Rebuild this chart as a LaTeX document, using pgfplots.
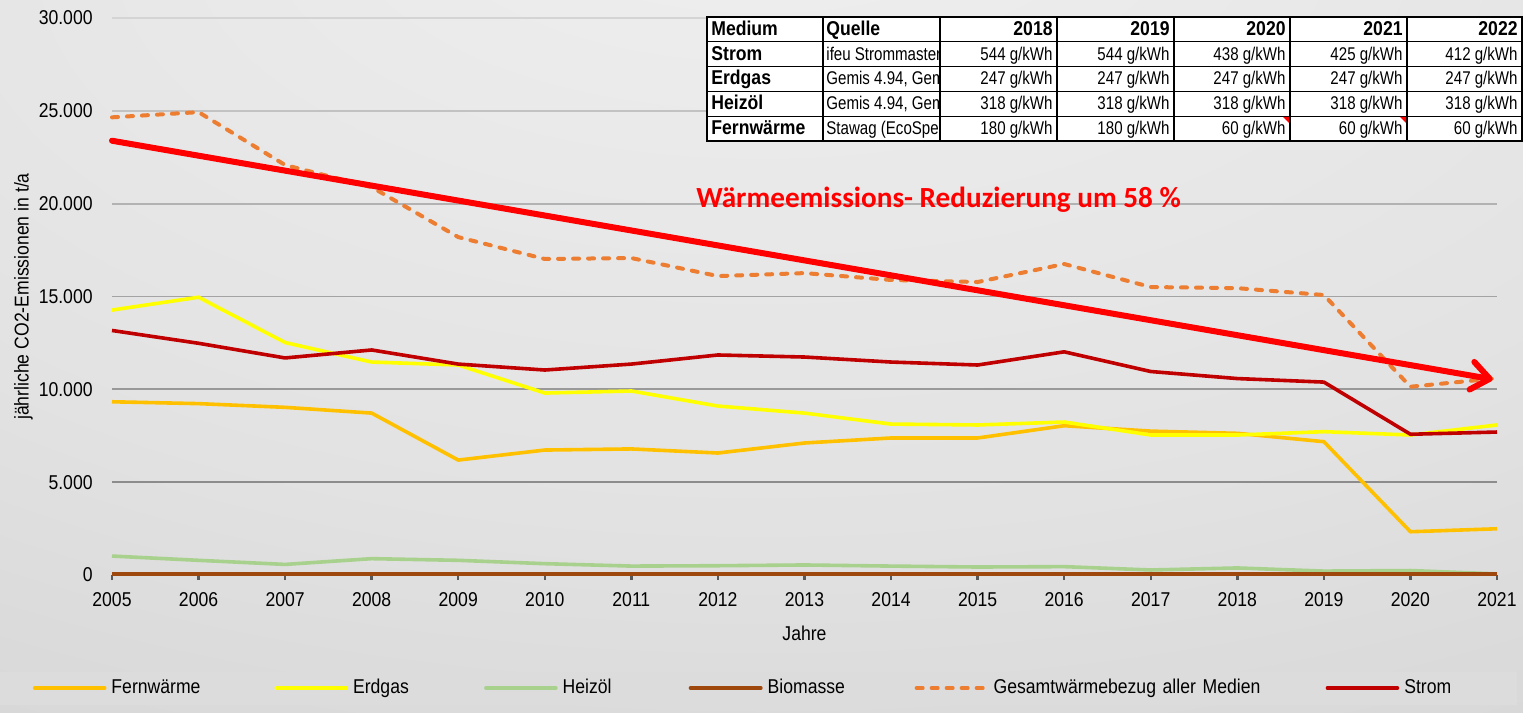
\documentclass[border=0pt]{standalone}
\usepackage{fontspec}
\setmainfont{Liberation Sans}[FakeStretch=0.88]
\newfontfamily\narrowfont{Liberation Sans}[FakeStretch=0.82]
\newfontfamily\calibri{Carlito}
\usepackage{pgfplots}
\pgfplotsset{compat=1.18}
\usetikzlibrary{arrows.meta}

\definecolor{fern}{HTML}{FFC000}
\definecolor{erdgas}{HTML}{FFFF00}
\definecolor{heizoel}{HTML}{A9D18E}
\definecolor{biomasse}{HTML}{9E480E}
\definecolor{gesamt}{HTML}{ED7D31}
\definecolor{strom}{HTML}{C00000}
\definecolor{trend}{HTML}{FF0000}
\definecolor{bgA}{HTML}{F0F0F0}
\definecolor{bgB}{HTML}{E2E2E2}
\definecolor{bgC}{HTML}{CECECE}
\definecolor{bgD}{HTML}{C2C2C2}
\definecolor{strip}{HTML}{DCDCDC}
\pgfdeclareradialshading{bgshade}{\pgfpoint{0bp}{36bp}}{color(0bp)=(bgA); color(35bp)=(bgB); color(65bp)=(bgC); color(100bp)=(bgD)}

\begin{document}
\begin{tikzpicture}[font=\fontsize{10}{12}\selectfont]
\path[use as bounding box] (-56pt,-69pt) rectangle (705.5pt,287.5pt);
% background, pixel coordinates of the reference
\begin{scope}[shift={(-56pt,287.5pt)},x=0.5pt,y=-0.5pt]
\shade[shading=bgshade] (0,0) rectangle (1523,713);
\fill[strip] (0,672) rectangle (1517,705);
\end{scope}

\begin{axis}[scale only axis,width=692.5pt,height=278.5pt,
  xmin=2005,xmax=2021,ymin=0,ymax=30000,clip=false,
  axis line style={draw=none},
  xtick={2005,2006,...,2021},ytick={0,5000,...,30000},
  xtick pos=left,ytick pos=left,tick align=outside,major tick length=2.5pt,
  xtick style={draw=black!65,line width=1.2pt},ytick style={draw=none},
  scaled y ticks=false,
  tick label style={font=\fontsize{10}{12}\selectfont,/pgf/number format/assume math mode=true},
  xticklabel style={/pgf/number format/1000 sep={},inner sep=0pt,anchor=north,yshift=-6pt},
  yticklabel style={/pgf/number format/1000 sep={.},inner sep=0pt,anchor=east,xshift=-7pt},
  xlabel={Jahre},xlabel style={at={(axis description cs:0.5,-0.104)},anchor=center},
  ylabel={jährliche CO2-Emissionen in t/a},ylabel style={at={(axis description cs:-0.064,0.5)},anchor=center},
  every axis plot/.append style={line width=1.8pt,line join=round},
  legend columns=6,legend cell align=left,
  legend image code/.code={\draw[#1,line cap=round] (0pt,0pt) -- (35pt,0pt);},
  legend style={at={(axis description cs:-0.0574,-0.2029)},anchor=west,draw=none,fill=none,inner sep=0pt,
    nodes={inner sep=2.5pt},font=\fontsize{10}{12}\selectfont,
    /tikz/every even column/.append style={column sep=0pt}}]

% grid lines
\addplot[forget plot,line width=0.9pt,color=black!17] coordinates {(2005,30000)(2021,30000)};
\addplot[forget plot,line width=0.9pt,color=black!24] coordinates {(2005,25000)(2021,25000)};
\addplot[forget plot,line width=0.9pt,color=black!30] coordinates {(2005,20000)(2021,20000)};
\addplot[forget plot,line width=0.9pt,color=black!36] coordinates {(2005,15000)(2021,15000)};
\addplot[forget plot,line width=0.9pt,color=black!40] coordinates {(2005,10000)(2021,10000)};
\addplot[forget plot,line width=0.9pt,color=black!45] coordinates {(2005,5000)(2021,5000)};

\addplot[color=fern] coordinates {(2005,9330)(2006,9230)(2007,9030)(2008,8720)(2009,6190)(2010,6730)(2011,6790)(2012,6570)(2013,7110)(2014,7380)(2015,7380)(2016,8040)(2017,7750)(2018,7630)(2019,7180)(2020,2330)(2021,2490)};
\addlegendentry[text width=79pt]{Fernwärme}
\addplot[color=erdgas] coordinates {(2005,14270)(2006,14960)(2007,12520)(2008,11470)(2009,11310)(2010,9800)(2011,9910)(2012,9100)(2013,8720)(2014,8130)(2015,8080)(2016,8240)(2017,7540)(2018,7540)(2019,7720)(2020,7540)(2021,8080)};
\addlegendentry[text width=63pt]{Erdgas}
\addplot[color=heizoel] coordinates {(2005,1020)(2006,790)(2007,570)(2008,880)(2009,790)(2010,610)(2011,480)(2012,500)(2013,540)(2014,480)(2015,430)(2016,450)(2017,270)(2018,380)(2019,210)(2020,240)(2021,60)};
\addlegendentry[text width=60.5pt]{Heizöl}
\addplot[color=biomasse,line width=2pt] coordinates {(2005,30)(2006,30)(2007,30)(2008,30)(2009,30)(2010,30)(2011,30)(2012,30)(2013,30)(2014,30)(2015,30)(2016,30)(2017,30)(2018,30)(2019,30)(2020,30)(2021,30)};
\addlegendentry[text width=71pt]{Biomasse}
\addplot[color=gesamt,line width=2pt,line cap=round,dash pattern=on 3pt off 4.5pt] coordinates {(2005,24650)(2006,24930)(2007,22080)(2008,20890)(2009,18200)(2010,17020)(2011,17070)(2012,16100)(2013,16260)(2014,15890)(2015,15780)(2016,16750)(2017,15510)(2018,15450)(2019,15080)(2020,10140)(2021,10600)};
\addlegendentry[text width=163.5pt]{Gesamtwärmebezug aller Medien}
\addplot[color=strom] coordinates {(2005,13170)(2006,12480)(2007,11690)(2008,12120)(2009,11360)(2010,11040)(2011,11360)(2012,11850)(2013,11740)(2014,11470)(2015,11310)(2016,12020)(2017,10960)(2018,10580)(2019,10390)(2020,7580)(2021,7700)};
\addlegendentry[text width=30pt]{Strom}

% trend arrow
\addplot[forget plot,color=trend,line width=3pt,line cap=round,-{Straight Barb[length=9pt,width=14pt,round]}] coordinates {(2005,23390)(2020.95,10540)};
\node[anchor=base,text=trend,font=\calibri\bfseries\fontsize{14.6}{16}\selectfont] at (axis cs:2014.55,19820) {Wärmeemissions- Reduzierung um 58 \%};
\end{axis}

% emission factor table
\begin{scope}[shift={(-56pt,287.5pt)},x=0.5pt,y=-0.5pt,font=\narrowfont\fontsize{9.2}{10}\selectfont,every node/.style={inner sep=0pt}]
\fill[white] (707,17) rectangle (1522,141);
\foreach \y in {41.8,66.6,91.4,116.2} \draw[line width=0.6pt] (707,\y) -- (1522,\y);
\foreach \x in {823,940} \draw[line width=0.6pt] (\x,17) -- (\x,141);
\foreach \x in {1057,1174,1290,1407} \draw[line width=1.2pt] (\x,17) -- (\x,141);
\draw[line width=1.4pt] (707,17) rectangle (1522,141);
\fill[trend] (1289,116.8) -- (1283,116.8) -- (1289,122.8) -- cycle;
\fill[trend] (1406,116.8) -- (1400,116.8) -- (1406,122.8) -- cycle;
\node[anchor=base west,font=\bfseries] at (711,35.3) {Medium};
\node[anchor=base west,font=\bfseries] at (826,35.3) {Quelle};
\foreach \x/\t in {1053/2018,1170/2019,1286/2020,1403/2021,1518/2022}
  \node[anchor=base east,font=\bfseries] at (\x,35.3) {\t};
\node[anchor=base west,font=\bfseries] at (711,60.1) {Strom};
\node[anchor=base west,font=\bfseries] at (711,84.9) {Erdgas};
\node[anchor=base west,font=\bfseries] at (711,109.7) {Heizöl};
\node[anchor=base west,font=\bfseries] at (711,134.5) {Fernwärme};
\begin{scope}
\clip (824,17) rectangle (939,141);
\node[anchor=base west] at (826,60.1) {ifeu Strommaster};
\node[anchor=base west] at (826,84.9) {Gemis 4.94, Gemis};
\node[anchor=base west] at (826,109.7) {Gemis 4.94, Gemis};
\node[anchor=base west] at (826,134.5) {Stawag (EcoSpeicher)};
\end{scope}
\foreach \x/\t in {1053/544,1170/544,1286/438,1403/425,1518/412}
  \node[anchor=base east] at (\x,60.1) {\t{} g/kWh};
\foreach \x in {1053,1170,1286,1403,1518}
  \node[anchor=base east] at (\x,84.9) {247 g/kWh};
\foreach \x in {1053,1170,1286,1403,1518}
  \node[anchor=base east] at (\x,109.7) {318 g/kWh};
\foreach \x/\t in {1053/180,1170/180,1286/60,1403/60,1518/60}
  \node[anchor=base east] at (\x,134.5) {\t{} g/kWh};
\end{scope}
\end{tikzpicture}
\end{document}
